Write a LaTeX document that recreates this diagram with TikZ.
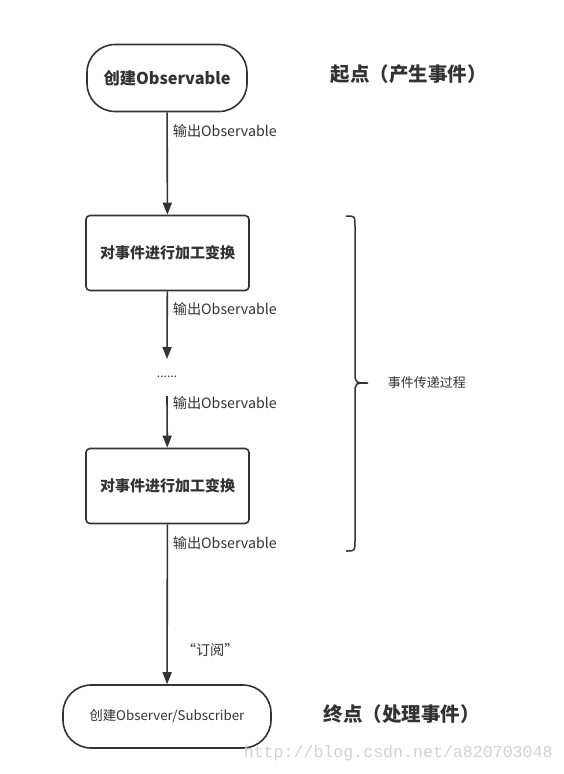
\documentclass[tikz,border=0pt]{standalone}
\usepackage{fontspec}
\setmainfont{Noto Sans CJK SC}
\newfontfamily\wmfont{Liberation Mono}
\usetikzlibrary{arrows.meta}
\definecolor{ln}{HTML}{333333}
\begin{document}
\begin{tikzpicture}[x=1pt,y=-1pt,
  line width=1.6pt,
  every node/.style={text=ln},
  stadium/.style={draw=ln,rounded corners=28pt,minimum width=#1,inner sep=0pt},
  boxnode/.style={draw=ln,rounded corners=4pt,minimum width=163pt,minimum height=75pt,inner sep=0pt,font=\fontsize{15}{18}\selectfont\bfseries},
  flow/.style={draw=ln,-{Triangle[length=12pt,width=9pt]}},
  plain/.style={draw=ln},
  lbl/.style={anchor=west,inner sep=0pt,font=\fontsize{14.2}{16}\selectfont},
  side/.style={inner sep=0pt,font=\fontsize{19.5}{22}\selectfont\bfseries}]
\useasboundingbox[fill=white] (0,0) rectangle (564,774);

\node[stadium=160pt,minimum height=67pt,font=\fontsize{16.3}{19}\selectfont\bfseries] (start) at (167,78) {创建Observable};
\node[boxnode] (b1) at (167.5,253) {对事件进行加工变换};
\node[inner sep=0pt,font=\fontsize{12}{12}\selectfont] (dots) at (167,377) {......};
\node[boxnode] (b2) at (167.5,486) {对事件进行加工变换};
\node[stadium=208pt,minimum height=63pt,font=\fontsize{13.3}{16}\selectfont] (end) at (167,716.5) {创建Observer/Subscriber};

\coordinate (d1) at (167,359);
\coordinate (d2) at (167,396);

\draw[flow] (start) -- (b1);
\draw[flow] (b1) -- (d1);
\draw[flow] (d2) -- (b2);
\draw[flow] (b2) -- (end);

\node[lbl] (l1) at (172,131) {输出Observable};
\node[lbl] (l2) at (172,309) {输出Observable};
\node[lbl] (l3) at (172,403) {输出Observable};
\node[lbl] (l4) at (172,543) {输出Observable};
\node[lbl] (l5) at (181,650) {“订阅”};

\node[side,anchor=west] (s1) at (330,74) {起点（产生事件）};
\node[side,anchor=west] (s2) at (323,714) {终点（处理事件）};

\draw[plain,line width=1.5pt] (346,216) .. controls (355,216) .. (355,226) -- (355,372)
  .. controls (355,383) .. (368,383) .. controls (355,383) .. (355,394) -- (355,541)
  .. controls (355,551) .. (346,551);
\node[lbl,font=\fontsize{13}{16}\selectfont] (br) at (387,383) {事件传递过程};

\node[anchor=west,inner sep=0pt,text=black!18,font=\wmfont\fontsize{16.6}{18}\selectfont] (wm) at (243,753) {http://blog.csdn.net/a820703048};
\end{tikzpicture}
\end{document}
